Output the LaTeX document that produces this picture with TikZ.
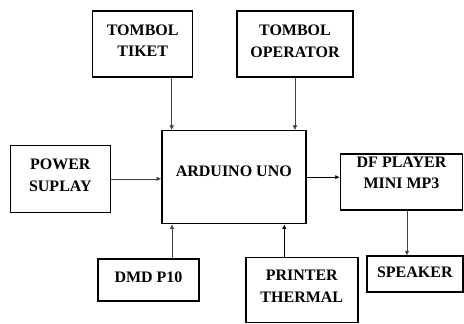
\documentclass[tikz,border=0pt]{standalone}
\usepackage{fontspec}
\setmainfont{Liberation Serif}
\usetikzlibrary{positioning, arrows.meta}

\begin{document}
\begin{tikzpicture}[
    x=1pt, y=-1pt,
    block/.style={draw, line width=1.5pt, align=center, inner sep=0pt,
        font=\fontsize{16}{21.5}\selectfont\bfseries},
    connect/.style={-{Latex[length=4.5pt, width=4.5pt]}, line width=0.5pt, black!75},
    bold_connect/.style={connect, line width=1.1pt, black}
]

    % --- FRAME ---
    \useasboundingbox (0,0) rectangle (464,324);

    % --- INPUT BUTTONS (top) ---
    \node[block, minimum width=100pt, minimum height=66pt, text depth=6pt] (tiket) at (142.7, 43.8) {TOMBOL\\TIKET};
    \node[block, minimum width=116pt, minimum height=66pt, text depth=6pt] (operator) at (295, 44) {TOMBOL\\OPERATOR};

    % --- CONTROLLER ---
    \node[block, minimum width=144pt, minimum height=93pt, text depth=12pt] (arduino) at (233.8, 177.2) {ARDUINO UNO};

    % --- LEFT / RIGHT ---
    \node[block, minimum width=100pt, minimum height=67pt, text depth=7pt] (power) at (60.3, 178.8) {POWER\\SUPLAY};
    \node[block, minimum width=122pt, minimum height=56pt, text depth=19pt] (dfplayer) at (401.5, 182) {DF PLAYER\\MINI MP3};

    % --- BOTTOM ---
    \node[block, minimum width=101pt, minimum height=42pt, text depth=6pt] (dmd) at (148.5, 280) {DMD P10};
    \node[block, minimum width=112pt, minimum height=65pt, text depth=8pt] (printer) at (301.8, 290.2) {PRINTER\\THERMAL};
    \node[block, minimum width=96pt, minimum height=36pt, text depth=3pt] (speaker) at (414.8, 274) {SPEAKER};

    % --- CONNECTIONS ---
    \draw[connect] ([xshift=29pt]tiket.south) -- ([xshift=29pt]tiket.south |- arduino.north);
    \draw[connect] (operator.south) -- (operator.south |- arduino.north);
    \draw[connect] (power.east) -- (power.east -| arduino.west);
    \draw[bold_connect] (arduino.east) -- (arduino.east -| dfplayer.west);
    \draw[connect] ([xshift=23.5pt]dmd.north) -- ([xshift=23.5pt]dmd.north |- arduino.south);
    \draw[bold_connect] ([xshift=-17.5pt]printer.north) -- ([xshift=-17.5pt]printer.north |- arduino.south);
    \draw[connect] ([xshift=5.5pt]dfplayer.south) -- ([xshift=5.5pt]dfplayer.south |- speaker.north);

\end{tikzpicture}
\end{document}
